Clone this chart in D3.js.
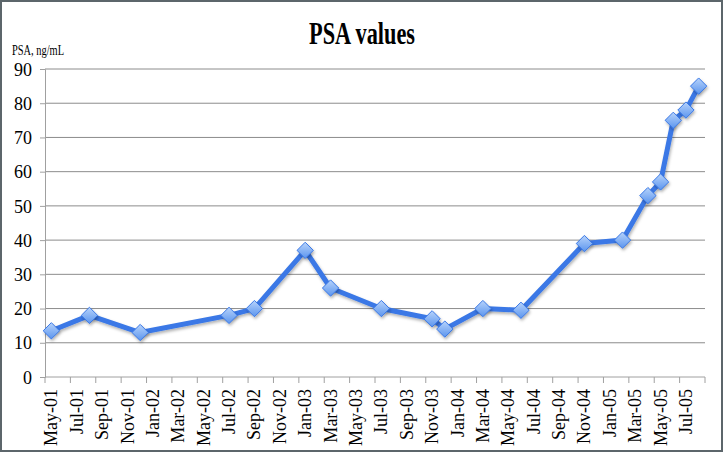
<!DOCTYPE html>
<html>
<head>
<meta charset="utf-8">
<script src="https://cdn.jsdelivr.net/npm/d3@7"></script>
<style>
  html, body { margin: 0; padding: 0; background: #fff; }
  svg text { font-family: "Liberation Serif", "DejaVu Serif", serif; fill: #000; }
</style>
</head>
<body>
<div id="chart"></div>
<script>
// 图表数据
const dates = ["2001-05", "2001-08", "2001-12", "2002-07", "2002-09", "2003-01", "2003-03",
    "2003-07", "2003-11", "2003-12", "2004-03", "2004-06", "2004-11", "2005-02",
    "2005-04", "2005-05", "2005-06", "2005-07", "2005-08"];
const psaValues = [13.5, 18, 13, 18, 20, 37, 26, 20, 17, 14, 20, 19.5, 39, 40, 53, 57, 75, 78, 85];
const yTicks = [0, 10, 20, 30, 40, 50, 60, 70, 80, 90];
const monthNames = ["Jan", "Feb", "Mar", "Apr", "May", "Jun", "Jul", "Aug", "Sep", "Oct", "Nov", "Dec"];

const width = 723, height = 453;
const margin = { top: 69, right: 18, bottom: 76, left: 45 };

// 月份列表 May-01 .. Aug-05
const months = d3.timeMonths(new Date(2001, 4, 1), new Date(2005, 8, 1))
    .map(d => d3.timeFormat("%Y-%m")(d));

const svg = d3.select("#chart").append("svg")
    .attr("width", width)
    .attr("height", height);

// 外框
svg.append("rect")
    .attr("x", 1).attr("y", 1)
    .attr("width", width - 2).attr("height", height - 3)
    .attr("fill", "#fff")
    .attr("stroke", "#5c666b")
    .attr("stroke-width", 2);

const defs = svg.append("defs");
const grad = defs.append("linearGradient")
    .attr("id", "mk").attr("x1", 0).attr("y1", 0).attr("x2", 0).attr("y2", 1);
grad.append("stop").attr("offset", "0%").attr("stop-color", "#b7d3fb");
grad.append("stop").attr("offset", "100%").attr("stop-color", "#5b95ee");
const shadow = defs.append("filter").attr("id", "sh")
    .attr("x", "-30%").attr("y", "-30%").attr("width", "160%").attr("height", "160%");
shadow.append("feDropShadow")
    .attr("dx", 1).attr("dy", 2).attr("stdDeviation", 1.5)
    .attr("flood-color", "#000").attr("flood-opacity", 0.3);

const x = d3.scaleBand()
    .domain(months)
    .range([margin.left, width - margin.right])
    .paddingInner(0).paddingOuter(0);

const y = d3.scaleLinear()
    .domain([0, 90])
    .range([height - margin.bottom, margin.top]);

// 网格线
svg.append("g")
    .selectAll("line")
    .data(yTicks.filter(d => d > 0))
    .enter().append("line")
    .attr("x1", margin.left).attr("x2", width - margin.right)
    .attr("y1", d => y(d)).attr("y2", d => y(d))
    .attr("stroke", "#8c8c8c")
    .attr("stroke-width", 1);

// Y 轴
const yAxis = svg.append("g")
    .attr("transform", `translate(${margin.left},0)`)
    .call(d3.axisLeft(y).tickValues(yTicks).tickSize(5).tickPadding(8))
    .attr("font-family", "Liberation Serif")
    .attr("font-size", 18);
yAxis.select(".domain").attr("stroke", "#a0a0a0");
yAxis.selectAll(".tick line").attr("stroke", "#a0a0a0");
yAxis.selectAll(".tick text").attr("dy", "0.34em");

// X 轴：每两个月一个刻度
const tickMonths = months.filter((d, i) => i % 2 === 0);
const xAxisG = svg.append("g")
    .attr("transform", `translate(0,${height - margin.bottom})`);
xAxisG.append("line")
    .attr("x1", margin.left).attr("x2", width - margin.right)
    .attr("stroke", "#a0a0a0");
xAxisG.selectAll("line.tk")
    .data(tickMonths.concat(["end"]))
    .enter().append("line")
    .attr("class", "tk")
    .attr("x1", d => d === "end" ? width - margin.right : x(d))
    .attr("x2", d => d === "end" ? width - margin.right : x(d))
    .attr("y1", 0).attr("y2", 6)
    .attr("stroke", "#a0a0a0");

const fmtLabel = d => {
    const [yy, mm] = d.split("-");
    return monthNames[+mm - 1] + "-" + yy.slice(2);
};
xAxisG.selectAll("text")
    .data(tickMonths)
    .enter().append("text")
    .attr("transform", d => `translate(${x(d) + x.bandwidth() / 2 + 6},12) rotate(-90)`)
    .attr("text-anchor", "end")
    .style("font-size", "18px")
    .text(fmtLabel);

// 折线
const pts = dates.map((d, i) => ({ x: x(d) + x.bandwidth() / 2, y: y(psaValues[i]) }));
svg.append("path")
    .datum(pts)
    .attr("fill", "none")
    .attr("stroke", "#3a78e6")
    .attr("stroke-width", 5)
    .attr("stroke-linejoin", "round")
    .attr("filter", "url(#sh)")
    .attr("d", d3.line().x(d => d.x).y(d => d.y));

// 菱形标记
svg.append("g")
    .selectAll("path")
    .data(pts)
    .enter().append("path")
    .attr("transform", d => `translate(${d.x},${d.y})`)
    .attr("d", d3.symbol().type(d3.symbolDiamond2).size(170))
    .attr("fill", "url(#mk)")
    .attr("stroke", "#3a78e6")
    .attr("stroke-width", 1)
    .attr("filter", "url(#sh)");

// 标题
svg.append("text")
    .attr("x", 362).attr("y", 44)
    .attr("text-anchor", "middle")
    .attr("textLength", 106)
    .attr("lengthAdjust", "spacingAndGlyphs")
    .style("font-size", "31px")
    .style("font-weight", "bold")
    .text("PSA values");

// 纵轴标题
svg.append("text")
    .attr("x", 12).attr("y", 55)
    .attr("textLength", 52)
    .attr("lengthAdjust", "spacingAndGlyphs")
    .style("font-size", "14px")
    .text("PSA, ng/mL");
</script>
</body>
</html>
